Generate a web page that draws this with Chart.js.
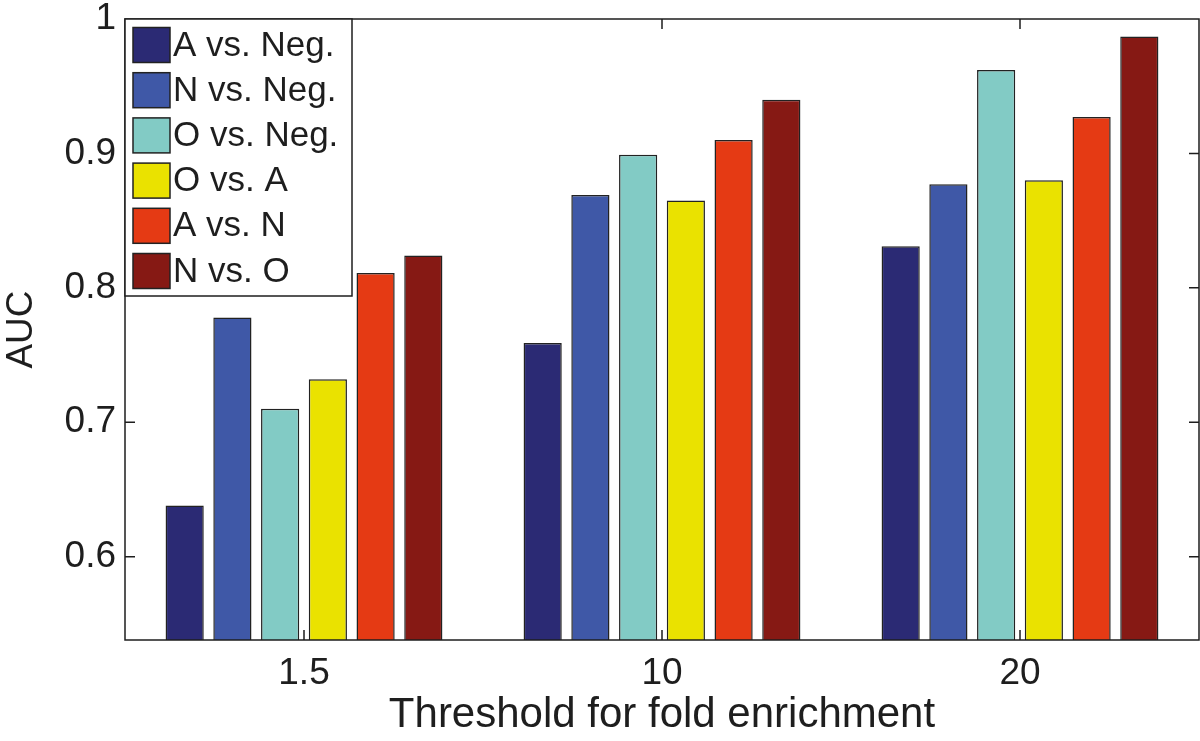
<!DOCTYPE html>
<html><head><meta charset="utf-8">
<script src="https://cdn.jsdelivr.net/npm/chart.js@4/dist/chart.umd.min.js"></script>
<style>html,body{margin:0;padding:0;background:#fff}#wrap{width:1200px;height:741px}</style>
</head><body><div id="wrap"><canvas id="c" width="1200" height="741"></canvas></div>
<script>
const categories = ['1.5', '10', '20'];
const seriesNames = ['A vs. Neg.', 'N vs. Neg.', 'O vs. Neg.', 'O vs. A', 'A vs. N', 'N vs. O'];
const aVsNeg = [0.638, 0.759, 0.831];
const nVsNeg = [0.778, 0.869, 0.877];
const oVsNeg = [0.710, 0.899, 0.962];
const oVsA   = [0.732, 0.865, 0.880];
const aVsN   = [0.811, 0.910, 0.927];
const nVsO   = [0.824, 0.940, 0.987];
const yTicks = [0.6, 0.7, 0.8, 0.9, 1];
const yTickLabels = ['0.6', '0.7', '0.8', '0.9', '1'];
const seriesColors = ['#2B2A74', '#3F58A7', '#82CBC5', '#EAE200', '#E53A14', '#861914'];
const xTitle = 'Threshold for fold enrichment';
const yTitle = 'AUC';

const FONT = '"Liberation Sans", Arial, Helvetica, sans-serif';
const INK = '#1e1e1e';

const seriesValues = [aVsNeg, nVsNeg, oVsNeg, oVsA, aVsN, nVsO];
const datasets = seriesNames.map((name, i) => ({
  label: name,
  data: seriesValues[i],
  backgroundColor: seriesColors[i],
  borderColor: '#222222',
  borderWidth: 1.5,
  borderSkipped: 'start',
  categoryPercentage: 0.8,
  barPercentage: 0.8
}));

const framePlugin = {
  id: 'frame',
  afterDatasetsDraw(chart) {
    const {ctx, chartArea: a, scales} = chart;
    ctx.save();
    ctx.strokeStyle = INK;
    ctx.lineWidth = 1.5;
    ctx.strokeRect(a.left, a.top, a.right - a.left, a.bottom - a.top);
    ctx.beginPath();
    const tl = 10;
    scales.y.ticks.forEach(t => {
      const y = scales.y.getPixelForValue(t.value);
      if (y <= a.top + 1) return;
      ctx.moveTo(a.left, y); ctx.lineTo(a.left + tl, y);
      ctx.moveTo(a.right, y); ctx.lineTo(a.right - tl, y);
    });
    categories.forEach((c, i) => {
      const x = scales.x.getPixelForValue(i);
      ctx.moveTo(x, a.bottom); ctx.lineTo(x, a.bottom - tl);
      ctx.moveTo(x, a.top); ctx.lineTo(x, a.top + tl);
    });
    ctx.stroke();
    // legend inside plot
    const lx = a.left, ly = a.top, lw = 227, lh = 277;
    ctx.fillStyle = '#ffffff';
    ctx.fillRect(lx, ly, lw, lh);
    ctx.strokeRect(lx, ly, lw, lh);
    ctx.font = '35px ' + FONT;
    ctx.textBaseline = 'middle';
    ctx.textAlign = 'left';
    chart.data.datasets.forEach((ds, i) => {
      const cy = ly + 26 + i * 45.2;
      ctx.fillStyle = ds.backgroundColor;
      ctx.fillRect(lx + 8, cy - 17.5, 37, 35);
      ctx.strokeStyle = '#222222';
      ctx.lineWidth = 1.5;
      ctx.strokeRect(lx + 8, cy - 17.5, 37, 35);
      ctx.fillStyle = INK;
      ctx.fillText(ds.label, lx + 48, cy + 1);
    });
    ctx.restore();
  }
};

new Chart(document.getElementById('c'), {
  type: 'bar',
  data: { labels: categories, datasets },
  options: {
    responsive: false,
    devicePixelRatio: 1,
    animation: false,
    layout: { padding: { top: 19, right: 1, left: 0, bottom: 0 } },
    plugins: { legend: { display: false }, tooltip: { enabled: false } },
    scales: {
      x: {
        grid: { display: false, drawTicks: false },
        border: { display: false },
        ticks: { color: INK, font: { family: FONT, size: 37 }, padding: 12, maxRotation: 0 },
        title: { display: true, text: xTitle, color: INK, font: { family: FONT, size: 42 }, padding: { top: 0, bottom: 0 } },
        afterFit(s) { s.height = 101; s.paddingLeft = 0; s.paddingRight = 0; }
      },
      y: {
        min: 0.538, max: 1.0,
        grid: { display: false, drawTicks: false },
        border: { display: false },
        afterBuildTicks(s) { s.ticks = yTicks.map(v => ({ value: v })); },
        ticks: { color: INK, font: { family: FONT, size: 37 }, padding: 9,
          callback: (v, i) => yTickLabels[i] },
        title: { display: true, text: yTitle, color: INK, font: { family: FONT, size: 37 }, padding: { top: 0, bottom: 0 } },
        afterFit(s) { s.width = 125; s.paddingTop = 0; s.paddingBottom = 0; }
      }
    }
  },
  plugins: [framePlugin]
});
</script>
</body></html>
